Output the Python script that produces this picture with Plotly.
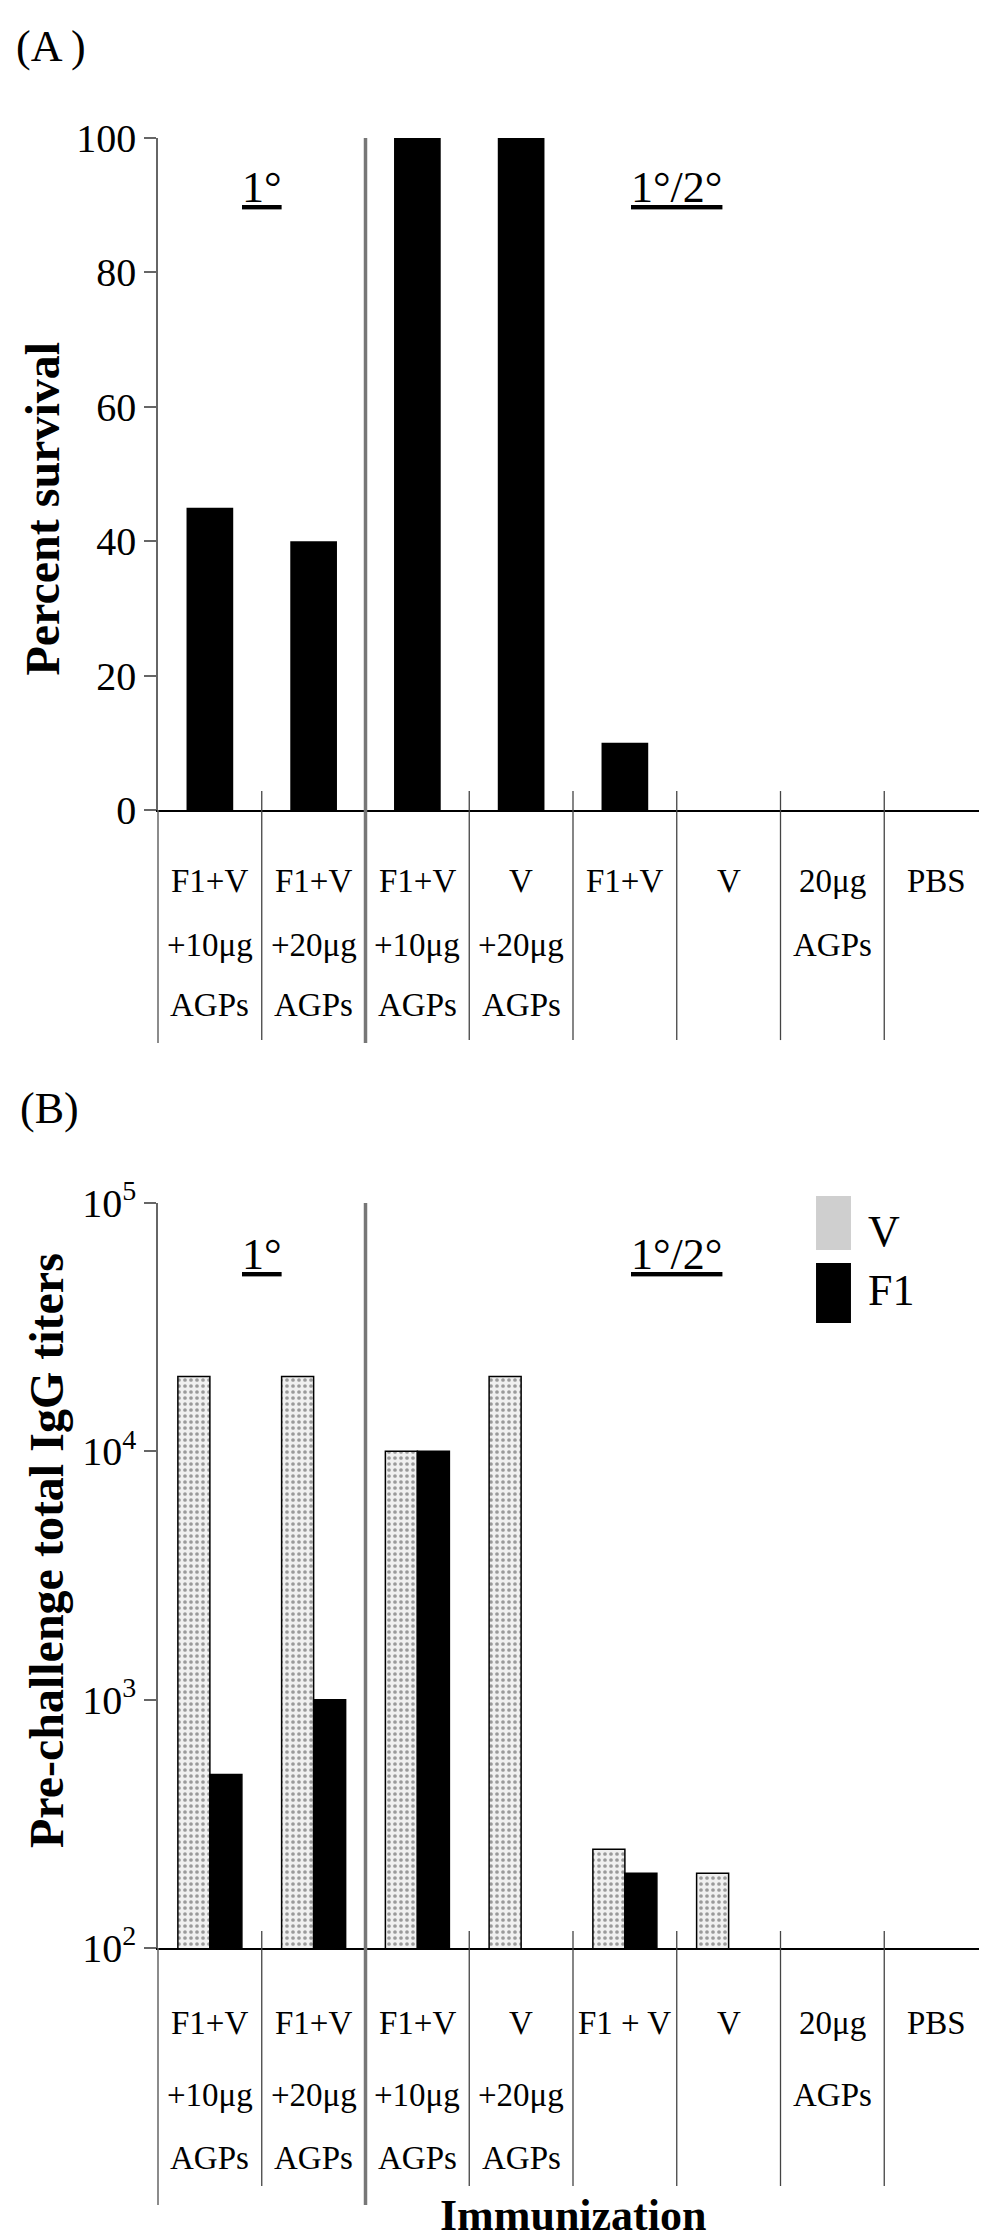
import plotly.graph_objects as go

# ---- data ---------------------------------------------------------------
categories = [
    "1° F1+V +10μg AGPs", "1° F1+V +20μg AGPs",
    "1°/2° F1+V +10μg AGPs", "1°/2° V +20μg AGPs", "1°/2° F1+V",
    "1°/2° V", "1°/2° 20μg AGPs", "1°/2° PBS",
]
groups = ["1°", "1°", "1°/2°", "1°/2°", "1°/2°", "1°/2°", "1°/2°", "1°/2°"]
labels_a = [["F1+V", "+10μg", "AGPs"], ["F1+V", "+20μg", "AGPs"],
            ["F1+V", "+10μg", "AGPs"], ["V", "+20μg", "AGPs"],
            ["F1+V"], ["V"], ["20μg", "AGPs"], ["PBS"]]
labels_b = [["F1+V", "+10μg", "AGPs"], ["F1+V", "+20μg", "AGPs"],
            ["F1+V", "+10μg", "AGPs"], ["V", "+20μg", "AGPs"],
            ["F1 + V"], ["V"], ["20μg", "AGPs"], ["PBS"]]

survival = [45, 40, 100, 100, 10, 0, 0, 0]
igg_v = [20000, 20000, 10000, 20000, 250, 200, None, None]
igg_f1 = [500, 1000, 10000, None, 200, None, None, None]

survival_ticks = [0, 20, 40, 60, 80, 100]
igg_ticks = [100, 1000, 10000, 100000]
igg_ticktext = ["10<sup>2</sup>", "10<sup>3</sup>", "10<sup>4</sup>", "10<sup>5</sup>"]

SERIF = "Liberation Serif"
AXIS_GREY = "#666666"
V_FILL = "#f0f0f0"

fig = go.Figure()
fig.add_trace(go.Bar(
    x=categories, y=survival, width=0.45, showlegend=False,
    marker=dict(color="black", line=dict(width=0)),
    xaxis="x", yaxis="y",
))
fig.add_trace(go.Bar(
    name="V", x=categories, y=igg_v, xaxis="x2", yaxis="y2", showlegend=False,
    marker=dict(color=V_FILL, line=dict(color="black", width=1.5),
                pattern=dict(shape=".", fgcolor="#444444", bgcolor=V_FILL,
                             size=6, solidity=0.3)),
))
fig.add_trace(go.Bar(
    name="F1", x=categories, y=igg_f1, xaxis="x2", yaxis="y2", showlegend=False,
    marker=dict(color="black", line=dict(color="black", width=1.5)),
))

common_x = dict(
    type="category", categoryorder="array", categoryarray=categories,
    range=[-0.5, len(categories) - 0.5], showline=True, linecolor="black",
    linewidth=2, ticks="", showticklabels=False, showgrid=False, zeroline=False,
)
common_y = dict(
    showline=True, linecolor=AXIS_GREY, linewidth=1.5, ticks="outside",
    ticklen=12, tickwidth=1.5, tickcolor=AXIS_GREY, showgrid=False,
    zeroline=False, tickfont=dict(family=SERIF, size=40, color="black"),
)

fig.update_layout(
    width=987, height=2240,
    margin=dict(l=150, r=7, t=130, b=300),
    paper_bgcolor="white", plot_bgcolor="white",
    font=dict(family=SERIF, color="black"),
    barmode="group", bargap=0.383, bargroupgap=0,
    xaxis=dict(common_x, anchor="y", domain=[0, 1]),
    yaxis=dict(common_y, anchor="x", domain=[0.6287, 1], range=[0, 100],
               tickvals=survival_ticks),
    xaxis2=dict(common_x, anchor="y2", domain=[0, 1]),
    yaxis2=dict(common_y, anchor="x2", domain=[0, 0.4116], type="log",
                range=[2, 5], tickvals=igg_ticks, ticktext=igg_ticktext),
    showlegend=False,
)

# ---- panel decorations: dividers, category labels, group headings -------
# (xref, yref, labels, row offsets px, tick above px, tick below px,
#  long below px, plot height px, heading y, right border colour/width)
panels = [
    ("x", "y", labels_a, [71, 135, 195], 19, 230, 233, 672, 0.926, "black", 3.5),
    ("x2", "y2", labels_b, [75, 147, 210], 17, 238, 257, 745, 0.931, "#555555", 2.5),
]
ann = []
for xr, yr, labels, rows, up, down, longdown, h, head_y, rc, rw in panels:
    yd = yr + " domain"
    for i in range(len(categories) - 1):
        b = i + 0.5
        if groups[i] != groups[i + 1]:
            fig.add_shape(type="line", xref=xr, yref=yd, x0=b, x1=b,
                          y0=1, y1=-longdown / h,
                          line=dict(color="#777777", width=3.5))
        else:
            fig.add_shape(type="line", xref=xr, yref=yd, x0=b, x1=b,
                          y0=up / h, y1=-down / h,
                          line=dict(color="#444444", width=1.3))
    # left axis extension and right border
    fig.add_shape(type="line", xref=xr + " domain", yref=yd, x0=0, x1=0,
                  y0=0, y1=-longdown / h, line=dict(color=AXIS_GREY, width=1.5))
    fig.add_shape(type="line", xref=xr + " domain", yref=yd, x0=1, x1=1,
                  y0=1, y1=-longdown / h, line=dict(color=rc, width=rw))

    for cat, lines in zip(categories, labels):
        for j, txt in enumerate(lines):
            ann.append(dict(x=cat, y=0, xref=xr, yref=yd, yshift=-rows[j],
                            text=txt, showarrow=False, yanchor="middle",
                            xanchor="center",
                            font=dict(family=SERIF, size=33, color="black")))
    for g in dict.fromkeys(groups):
        idx = [k for k, gg in enumerate(groups) if gg == g]
        ann.append(dict(x=sum(idx) / len(idx), y=head_y, xref=xr, yref=yd,
                        text=f"<u>{g}</u>", showarrow=False,
                        xanchor="center", yanchor="middle",
                        font=dict(family=SERIF, size=44, color="black")))

# legend (panel B), drawn large like the original key
legend_items = [("V", "#cfcfcf", 1.0094, 0.937, 0.9624),
                ("F1", "black", 0.9195, 0.839, 0.8819)]
for name, fill, top, bottom, ty in legend_items:
    fig.add_shape(type="rect", xref="x2 domain", yref="y2 domain",
                  x0=0.7928, x1=0.8349, y0=bottom, y1=top,
                  fillcolor=fill, line=dict(width=0))
    ann.append(dict(text=name, x=0.853, y=ty, xref="x2 domain", yref="y2 domain",
                    showarrow=False, xanchor="left", yanchor="middle",
                    font=dict(family=SERIF, size=44, color="black")))

ann += [
    dict(text="<b>Percent survival</b>", textangle=-90, x=-0.139, y=0.448,
         xref="paper", yref="y domain", showarrow=False,
         xanchor="center", yanchor="middle",
         font=dict(family=SERIF, size=48, color="black")),
    dict(text="<b>Pre-challenge total IgG titers</b>", textangle=-90, x=-0.135,
         y=0.534, xref="paper", yref="y2 domain", showarrow=False,
         xanchor="center", yanchor="middle",
         font=dict(family=SERIF, size=48, color="black")),
    dict(text="<b>Immunization</b>", x=0.5, y=-0.148, xref="paper", yref="paper",
         showarrow=False, xanchor="center", yanchor="middle",
         font=dict(family=SERIF, size=44, color="black")),
    dict(text="(A )", x=-0.129, y=1.0508, xref="paper", yref="paper",
         showarrow=False, xanchor="center", yanchor="middle",
         font=dict(family=SERIF, size=44, color="black")),
    dict(text="(B)", x=-0.131, y=0.464, xref="paper", yref="paper",
         showarrow=False, xanchor="center", yanchor="middle",
         font=dict(family=SERIF, size=44, color="black")),
]
fig.update_layout(annotations=ann)

fig.write_html("out.html")
